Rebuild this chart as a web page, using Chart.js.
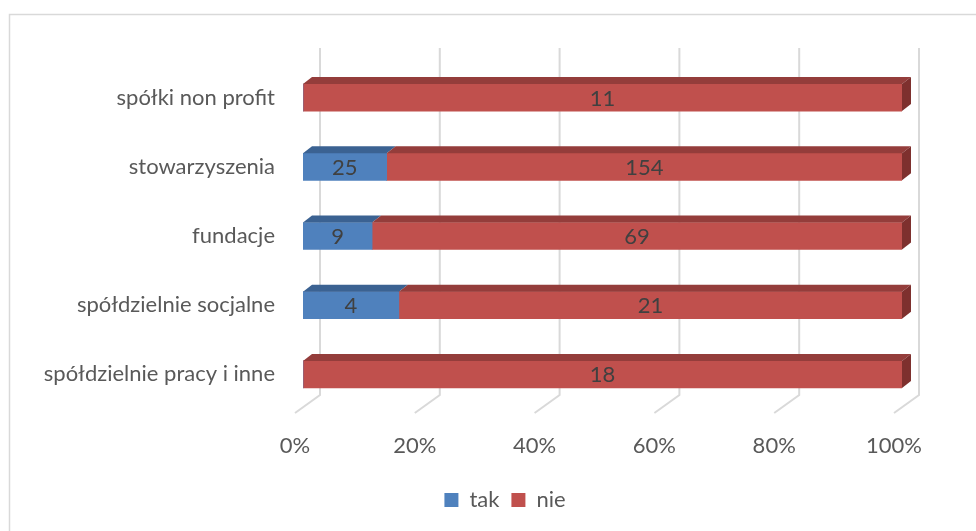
<!DOCTYPE html>
<html>
<head>
<meta charset="utf-8">
<script src="https://cdn.jsdelivr.net/npm/chart.js@4/dist/chart.umd.min.js"></script>
<style>
  html, body { margin: 0; padding: 0; background: #fff; }
  #wrap { width: 976px; height: 531px; position: relative; }
</style>
</head>
<body>
<div id="wrap"><canvas id="c"></canvas></div>
<script>
// dane
const categories = ['spółki non profit', 'stowarzyszenia', 'fundacje', 'spółdzielnie socjalne', 'spółdzielnie pracy i inne'];
const takValues = [0, 25, 9, 4, 0];
const nieValues = [11, 154, 69, 21, 18];
const xTicks = [0, 20, 40, 60, 80, 100];

const FONT = 'Lato, "Open Sans", sans-serif';
const FS = 22;
const DEPTH_X = 9, DEPTH_Y = 7;      // głębokość słupka 3D
const WALL_X = 17, FLOOR_X = -8;     // przesunięcie ściany tylnej / podłogi
const GRID_TOP = 48, GRID_BOTTOM = 395, FLOOR_Y = 413;
const LEGEND_SHIFT = 54;             // legenda wyśrodkowana na ramce, nie na kanwie

const totals = takValues.map((t, i) => t + nieValues[i]);
const pct = arr => arr.map((v, i) => v / totals[i] * 100);

const faces = [
  { front: '#4F81BD', top: '#3B6292' },
  { front: '#C0504D', top: '#943D3B', side: '#7E302E' },
];

const frame3d = {
  id: 'frame3d',
  afterLayout(chart) {
    chart.legend.left += LEGEND_SHIFT;
    chart.legend.right += LEGEND_SHIFT;
  },
  beforeDraw(chart) {
    const ctx = chart.ctx;
    ctx.save();
    ctx.fillStyle = '#fff';
    ctx.fillRect(0, 0, chart.width, chart.height);
    ctx.strokeStyle = '#D9D9D9';
    ctx.lineWidth = 1.5;
    ctx.beginPath();
    ctx.moveTo(9.5, chart.height + 2);
    ctx.lineTo(9.5, 14.5);
    ctx.lineTo(chart.width + 2, 14.5);
    ctx.stroke();
    // siatka: ściana tylna + podłoga
    const x = chart.scales.x;
    ctx.lineWidth = 2;
    xTicks.forEach(v => {
      const px = x.getPixelForValue(v);
      ctx.beginPath();
      ctx.moveTo(px + WALL_X, GRID_TOP);
      ctx.lineTo(px + WALL_X, GRID_BOTTOM);
      ctx.lineTo(px + FLOOR_X, FLOOR_Y);
      ctx.stroke();
    });
    ctx.restore();
  },
  afterDatasetsDraw(chart) {
    const ctx = chart.ctx;
    ctx.save();
    const metas = [chart.getDatasetMeta(0), chart.getDatasetMeta(1)];
    metas.forEach((meta, di) => {
      const f = faces[di];
      meta.data.forEach((bar, i) => {
        const raw = di === 0 ? takValues[i] : nieValues[i];
        if (!raw) return;
        const left = Math.min(bar.base, bar.x), right = Math.max(bar.base, bar.x);
        const top = bar.y - bar.height / 2, bottom = bar.y + bar.height / 2;
        ctx.fillStyle = f.top;
        ctx.beginPath();
        ctx.moveTo(left, top);
        ctx.lineTo(left + DEPTH_X, top - DEPTH_Y);
        ctx.lineTo(right + DEPTH_X, top - DEPTH_Y);
        ctx.lineTo(right, top);
        ctx.closePath();
        ctx.fill();
        if (f.side) {
          ctx.fillStyle = f.side;
          ctx.beginPath();
          ctx.moveTo(right, top);
          ctx.lineTo(right + DEPTH_X, top - DEPTH_Y);
          ctx.lineTo(right + DEPTH_X, bottom - DEPTH_Y);
          ctx.lineTo(right, bottom);
          ctx.closePath();
          ctx.fill();
        }
        ctx.fillStyle = '#404040';
        ctx.font = FS + 'px ' + FONT;
        ctx.textAlign = 'center';
        ctx.textBaseline = 'middle';
        ctx.fillText(String(raw), (left + right) / 2, bar.y + 1);
      });
    });
    ctx.restore();
  },
};

new Chart(document.getElementById('c'), {
  type: 'bar',
  data: {
    labels: categories,
    datasets: [
      { label: 'tak', data: pct(takValues), backgroundColor: faces[0].front, borderWidth: 0, barThickness: 27 },
      { label: 'nie', data: pct(nieValues), backgroundColor: faces[1].front, borderWidth: 0, barThickness: 27 },
    ],
  },
  options: {
    indexAxis: 'y',
    responsive: true,
    maintainAspectRatio: false,
    animation: false,
    layout: { padding: { left: 0, right: 74, top: 63, bottom: 10 } },
    plugins: {
      tooltip: { enabled: false },
      legend: {
        position: 'bottom',
        labels: {
          boxWidth: 14, boxHeight: 14, padding: 12,
          color: '#595959',
          font: { family: FONT, size: FS },
        },
      },
    },
    scales: {
      x: {
        stacked: true, min: 0, max: 100,
        border: { display: false },
        grid: { display: false, drawTicks: false },
        afterBuildTicks: s => { s.ticks = xTicks.map(v => ({ value: v })); },
        afterFit: s => { s.height = 68; },
        ticks: {
          color: '#595959', padding: 24, labelOffset: FLOOR_X,
          font: { family: FONT, size: FS },
          callback: v => v + '%',
        },
      },
      y: {
        stacked: true,
        border: { display: false },
        grid: { display: false, drawTicks: false },
        afterFit: s => { s.width = 303; },
        ticks: {
          color: '#595959', padding: 28,
          font: { family: FONT, size: FS },
        },
      },
    },
  },
  plugins: [frame3d],
});
</script>
</body>
</html>
